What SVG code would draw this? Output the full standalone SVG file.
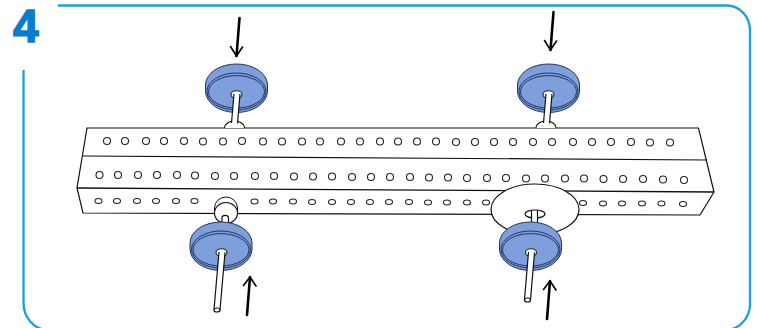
<svg xmlns="http://www.w3.org/2000/svg" xmlns:xlink="http://www.w3.org/1999/xlink" width="760" height="328" viewBox="0 0 760 328">
<style>
.ln{fill:none;stroke:#111;stroke-width:1.2}
.wh{fill:#fff;stroke:#111;stroke-width:1.2}
.hole{fill:#fff;stroke:#222;stroke-width:1.1}
.disc{fill:#7f9fdc;stroke:#22345c;stroke-width:1}
.arr{fill:none;stroke:#000;stroke-linecap:round;stroke-linejoin:round}
</style>
<defs>
<g id="d">
<path class="disc" d="M-31,-3 A31,21 0 0 1 31,-3 L31,3 A31,21.500 0 0 1 -31,3 Z"/>
<ellipse class="disc" cx="0" cy="3.500" rx="29.500" ry="18.500"/>
<ellipse class="disc" cx="0" cy="3.800" rx="28" ry="16.200"/>
</g>
<g id="a"><path class="arr" stroke-width="2.6" d="M0,-38 L-3,0"/><path class="arr" stroke-width="1.6" d="M-9,-9.500 L-3,0 L3,-9"/></g>
<g id="a2"><path class="arr" stroke-width="2.6" d="M0,38 L3,0"/><path class="arr" stroke-width="1.6" d="M-3.500,8.500 L3,0 L9,9"/></g>
</defs>
<path id="frame" d="M58,5.500 H727 A23,25 0 0 1 750,30 V303 A25,26 0 0 1 725,330 H48 A25,27 0 0 1 23.500,303 V70" fill="none" stroke="#1a9fe0" stroke-width="2.300"/>
<text x="13" y="41.500" font-family="'Liberation Sans',Arial,sans-serif" font-weight="700" font-size="46" fill="#0a7ccc" stroke="#0a7ccc" stroke-width="1.500">4</text>
<g id="beam">
<path class="wh" d="M87,128 H698.500 L714,192 L700,215 L83,213 L77,188 Z"/>
<path class="ln" d="M83,156 L707,160"/>
<path class="ln" d="M77,188 L714,192" style="stroke-width:1.300"/>
<g id="holes-top">
<circle class="hole" cx="107" cy="141" r="3.500"/><circle class="hole" cx="125" cy="141" r="3.500"/><circle class="hole" cx="146" cy="141" r="3.500"/><circle class="hole" cx="164" cy="141" r="3.500"/><circle class="hole" cx="184" cy="141" r="3.500"/><circle class="hole" cx="203" cy="141.500" r="3.500"/><circle class="hole" cx="223" cy="141.500" r="3.500"/><circle class="hole" cx="242" cy="141" r="3.500"/><circle class="hole" cx="263" cy="141.500" r="3.500"/><circle class="hole" cx="282" cy="141.500" r="3.500"/><circle class="hole" cx="302" cy="141.500" r="3.500"/><circle class="hole" cx="320" cy="141.500" r="3.500"/><circle class="hole" cx="341" cy="141.500" r="3.500"/><circle class="hole" cx="360" cy="141.500" r="3.500"/><circle class="hole" cx="380" cy="141.500" r="3.500"/><circle class="hole" cx="398" cy="141.500" r="3.500"/><circle class="hole" cx="417" cy="141.500" r="3.500"/><circle class="hole" cx="436" cy="141.500" r="3.500"/><circle class="hole" cx="456" cy="142" r="3.500"/><circle class="hole" cx="475" cy="142" r="3.500"/><circle class="hole" cx="494" cy="142" r="3.500"/><circle class="hole" cx="513" cy="142" r="3.500"/><circle class="hole" cx="533" cy="142" r="3.500"/><circle class="hole" cx="552" cy="142" r="3.500"/><circle class="hole" cx="573" cy="142" r="3.500"/><circle class="hole" cx="592" cy="142" r="3.500"/><circle class="hole" cx="611" cy="142" r="3.500"/><circle class="hole" cx="631" cy="142" r="3.500"/><circle class="hole" cx="650" cy="142.500" r="3.500"/><circle class="hole" cx="670" cy="142.500" r="3.500"/>
</g>
<g id="holes-mid">
<circle class="hole" cx="99.500" cy="175" r="3.500"/><circle class="hole" cx="118" cy="175" r="3.500"/><circle class="hole" cx="138" cy="175" r="3.500"/><circle class="hole" cx="157" cy="175" r="3.500"/><circle class="hole" cx="177" cy="175" r="3.500"/><circle class="hole" cx="195" cy="175.500" r="3.500"/><circle class="hole" cx="215" cy="176" r="3.500"/><circle class="hole" cx="234" cy="176" r="3.500"/><circle class="hole" cx="255" cy="176" r="3.500"/><circle class="hole" cx="274" cy="176" r="3.500"/><circle class="hole" cx="294" cy="176.500" r="3.500"/><circle class="hole" cx="313" cy="176.500" r="3.500"/><circle class="hole" cx="332" cy="176.500" r="3.500"/><circle class="hole" cx="352" cy="177" r="3.500"/><circle class="hole" cx="371" cy="177" r="3.500"/><circle class="hole" cx="390" cy="177" r="3.500"/><circle class="hole" cx="410" cy="177" r="3.500"/><circle class="hole" cx="429" cy="177.500" r="3.500"/><circle class="hole" cx="448" cy="177.500" r="3.500"/><circle class="hole" cx="467" cy="178" r="3.500"/><circle class="hole" cx="487" cy="178" r="3.500"/><circle class="hole" cx="506" cy="178" r="3.500"/><circle class="hole" cx="526" cy="178.500" r="3.500"/><circle class="hole" cx="545" cy="178.500" r="3.500"/><circle class="hole" cx="565" cy="178.500" r="3.500"/><circle class="hole" cx="584" cy="178.500" r="3.500"/><circle class="hole" cx="603.500" cy="179" r="3.500"/><circle class="hole" cx="623" cy="179" r="3.500"/><circle class="hole" cx="643" cy="179" r="3.500"/><circle class="hole" cx="663" cy="179.500" r="3.500"/><circle class="hole" cx="684" cy="180" r="3.500"/>
</g>
<g id="holes-low">
<ellipse class="hole" cx="98.500" cy="201" rx="3.500" ry="2.500"/><ellipse class="hole" cx="117" cy="201" rx="3.500" ry="2.500"/><ellipse class="hole" cx="137" cy="201" rx="3.500" ry="2.500"/><ellipse class="hole" cx="156" cy="201" rx="3.500" ry="2.500"/><ellipse class="hole" cx="176" cy="201" rx="3.500" ry="2.500"/><ellipse class="hole" cx="194.500" cy="201" rx="3.500" ry="2.500"/><ellipse class="hole" cx="254.500" cy="201.500" rx="3.500" ry="2.500"/><ellipse class="hole" cx="273" cy="201.500" rx="3.500" ry="2.500"/><ellipse class="hole" cx="293" cy="201.500" rx="3.500" ry="2.500"/><ellipse class="hole" cx="312" cy="202" rx="3.500" ry="2.500"/><ellipse class="hole" cx="332" cy="202" rx="3.500" ry="2.500"/><ellipse class="hole" cx="351" cy="202" rx="3.500" ry="2.500"/><ellipse class="hole" cx="370" cy="202" rx="3.500" ry="2.500"/><ellipse class="hole" cx="389" cy="202" rx="3.500" ry="2.500"/><ellipse class="hole" cx="409" cy="202" rx="3.500" ry="2.500"/><ellipse class="hole" cx="428" cy="202.500" rx="3.500" ry="2.500"/><ellipse class="hole" cx="447" cy="202.500" rx="3.500" ry="2.500"/><ellipse class="hole" cx="467" cy="202.500" rx="3.500" ry="2.500"/><ellipse class="hole" cx="486" cy="202.500" rx="3.500" ry="2.500"/><ellipse class="hole" cx="583" cy="203" rx="3.500" ry="2.500"/><ellipse class="hole" cx="603" cy="203.500" rx="3.500" ry="2.500"/><ellipse class="hole" cx="622" cy="203.500" rx="3.500" ry="2.500"/><ellipse class="hole" cx="642" cy="203.500" rx="3.500" ry="2.500"/><ellipse class="hole" cx="661.500" cy="203.500" rx="3.500" ry="2.500"/><ellipse class="hole" cx="683" cy="204" rx="3.500" ry="2.500"/>
</g>
</g>
<g id="knob-tl">
<path class="wh" d="M224.500,128 A10,7 0 0 1 244.500,128 Z" style="stroke:none"/><path class="ln" d="M224.500,128 A10,7 0 0 1 244.500,128"/>
<use xlink:href="#d" href="#d" x="236.500" y="88"/>
<ellipse class="hole" cx="236.500" cy="94.500" rx="5.500" ry="3.800"/>
<path class="wh" d="M234,94 L231.500,123 L237.500,123.500 L240,94 Z" style="stroke:none"/>
<path class="ln" d="M234,94 L231.500,123 M240,94 L237.500,123.500"/>
</g>
<g id="knob-tr">
<path class="wh" d="M536,128 A10,7 0 0 1 556,128 Z" style="stroke:none"/><path class="ln" d="M536,128 A10,7 0 0 1 556,128"/>
<use xlink:href="#d" href="#d" x="548.500" y="88"/>
<ellipse class="hole" cx="548.500" cy="94.500" rx="5.500" ry="3.800"/>
<path class="wh" d="M546,94 L543.500,123 L549.500,123.500 L552,94 Z" style="stroke:none"/>
<path class="ln" d="M546,94 L543.500,123 M552,94 L549.500,123.500"/>
</g>
<g id="knob-bl">
<path class="wh" d="M214.500,212 V208 A11.500,11 0 0 1 237.500,208 V212 Z" style="stroke-width:1"/>
<ellipse class="wh" cx="226" cy="213" rx="11.500" ry="10.500"/>
<path class="wh" d="M222,226 V218 A3.200,2.500 0 0 1 228.500,218 V226 Z"/>
<use xlink:href="#d" href="#d" x="221" y="246"/>
<ellipse class="hole" cx="221.500" cy="252.500" rx="5.500" ry="3.800"/>
<path class="wh" d="M219,252 L214,309.500 A3,2 0 0 0 220,310 L225,252.500 Z" style="stroke:none"/>
<path class="ln" d="M219,252 L214,309.500 M225,252.500 L220,310"/>
<ellipse class="wh" cx="217" cy="310" rx="3" ry="2"/>
</g>
<g id="knob-br">
<ellipse class="wh" cx="535" cy="209.500" rx="44" ry="25.500"/>
<ellipse class="wh" cx="535" cy="214" rx="10" ry="4"/>
<path class="wh" d="M531.500,211 V226 H537.500 V211 Z" style="stroke:none"/>
<path class="ln" d="M531.500,210.500 V226 M537.500,210.500 V226"/>
<use xlink:href="#d" href="#d" x="530.500" y="246"/>
<ellipse class="hole" cx="531" cy="252.500" rx="5.500" ry="3.800"/>
<path class="wh" d="M528.500,252 L524.500,299.500 A3,2 0 0 0 530.500,300 L534.500,252.500 Z" style="stroke:none"/>
<path class="ln" d="M528.500,252 L524.500,299.500 M534.500,252.500 L530.500,300"/>
<ellipse class="wh" cx="527.500" cy="300" rx="3" ry="2"/>
</g>
<g id="connectors">
<use xlink:href="#a" href="#a" x="239.500" y="56"/>
<use xlink:href="#a" href="#a" x="553.500" y="50"/>
<use xlink:href="#a2" href="#a2" x="247" y="277"/>
<use xlink:href="#a2" href="#a2" x="547" y="281"/>
</g>
</svg>
